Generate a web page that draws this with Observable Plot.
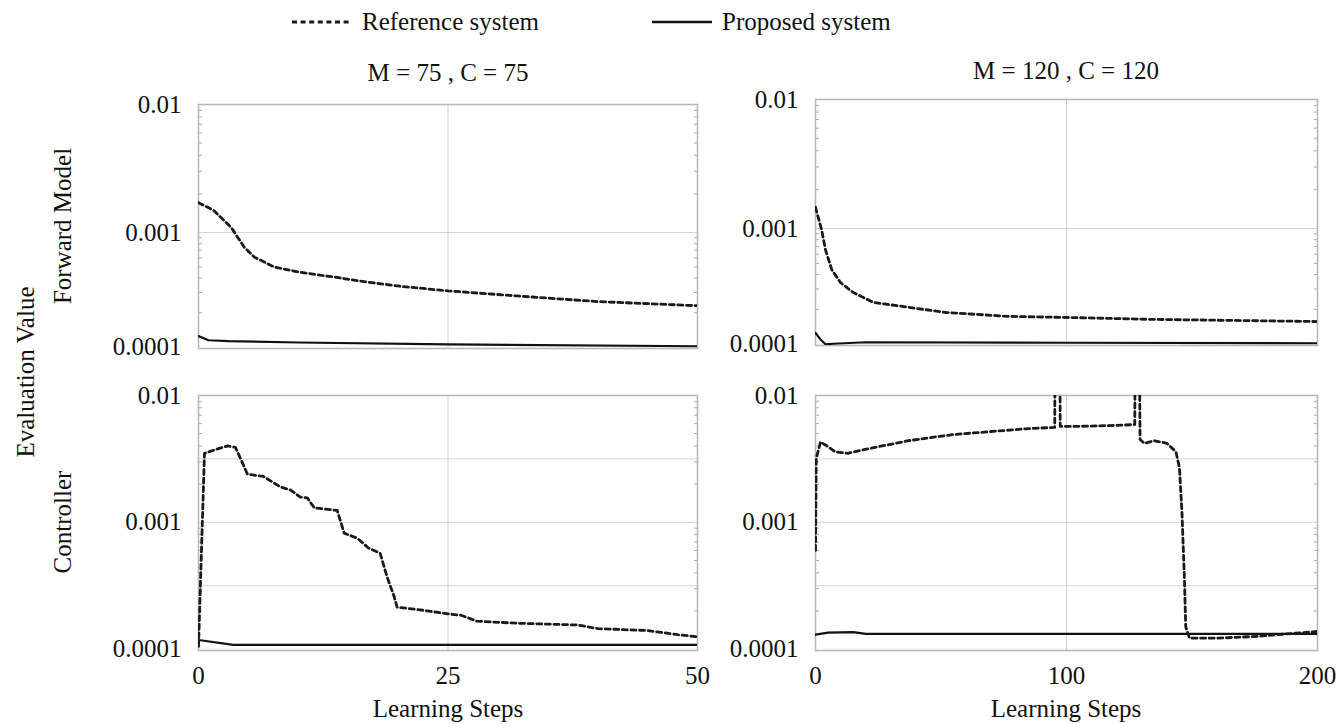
<!DOCTYPE html>
<html><head><meta charset="utf-8">
<script src="https://cdn.jsdelivr.net/npm/d3@7"></script>
<script src="https://cdn.jsdelivr.net/npm/@observablehq/plot@0.6"></script>
<style>
body{margin:0;background:#fff;}
#root{position:relative;width:1344px;height:724px;overflow:hidden;font-family:"Liberation Serif","Times New Roman",serif;color:#111;}
.abs{position:absolute;white-space:nowrap;font-size:25px;line-height:1;}
.ctr{transform:translate(-50%,-50%);}
.rot{transform:translate(-50%,-50%) rotate(-90deg);}
.plot{position:absolute;}
.plot svg{overflow:visible;}
</style></head><body><div id="root"></div>
<script>
// ---------- data ----------
const legendLabels = ["Reference system", "Proposed system"];
const panelTitles = ["M = 75 , C = 75", "M = 120 , C = 120"];
const rowLabels = ["Forward Model", "Controller"];
const yLabel = "Evaluation Value";
const xLabel = "Learning Steps";
const yTickValues = [0.0001, 0.001, 0.01];
const yTickLabels = ["0.0001", "0.001", "0.01"];
const xTicksLeft = [0, 25, 50];
const xTicksRight = [0, 100, 200];

// Forward model, M = 75
const fmLRefSteps = [0, 1.5, 3.3, 4.6, 5.6, 7.6, 10.2, 13.5, 16.9, 20.2, 25, 31.9, 40, 50];
const fmLRefVals  = [0.00171, 0.00149, 0.00109, 0.00074, 0.00061, 0.0005, 0.00045, 0.00041, 0.00037, 0.00034, 0.00031, 0.00028, 0.00025, 0.00023];
const fmLPropSteps = [0, 1, 3, 10, 25, 50];
const fmLPropVals  = [0.000125, 0.000115, 0.000113, 0.00011, 0.000106, 0.000102];

// Forward model, M = 120
const fmRRefSteps = [0, 2.5, 4, 6.5, 10, 15, 23, 36, 52, 77, 102, 134, 200];
const fmRRefVals  = [0.00146, 0.00096, 0.00065, 0.00044, 0.00034, 0.00028, 0.00023, 0.00021, 0.000188, 0.000174, 0.00017, 0.000164, 0.000157];
const fmRPropSteps = [0, 2, 4, 7, 20, 100, 200];
const fmRPropVals  = [0.000125, 0.00011, 0.0001, 0.000101, 0.000104, 0.000103, 0.000102];

// Controller, C = 75
const ctLRefSteps = [0, 0.6, 1.5, 2.9, 3.7, 4.2, 4.9, 6.5, 8.2, 9.2, 10.2, 10.9, 11.6, 13.9, 14.6, 15.9, 17, 18.2, 18.9, 19.6, 19.9, 22.2, 24.9, 26.3, 27.9, 31.9, 38, 40, 45, 48, 50];
const ctLRefVals  = [0.000105, 0.0035, 0.0037, 0.004, 0.0039, 0.0032, 0.0024, 0.0023, 0.0019, 0.0018, 0.00158, 0.00156, 0.0013, 0.00124, 0.00082, 0.00075, 0.00063, 0.00057, 0.00037, 0.00026, 0.000214, 0.000204, 0.00019, 0.000185, 0.000166, 0.00016, 0.000155, 0.000145, 0.00014, 0.00013, 0.000125];
const ctLPropSteps = [0, 3.5, 50];
const ctLPropVals  = [0.000118, 0.000108, 0.000108];

// Controller, C = 120
const ctRRefSteps = [0, 0.3, 2, 4.6, 7.8, 12.8, 21, 37, 54, 70, 86, 95.3, 95.5, 97.3, 97.5, 103, 119, 127.2, 127.4, 129, 129.3, 131, 135, 140, 143.6, 145, 146, 147, 147.5, 149, 160, 176, 200];
const ctRRefVals  = [0.0006, 0.0032, 0.0043, 0.004, 0.0036, 0.0035, 0.0038, 0.0044, 0.0049, 0.0052, 0.0055, 0.0056, 0.03, 0.03, 0.0057, 0.0057, 0.0058, 0.0059, 0.03, 0.03, 0.0045, 0.0042, 0.0044, 0.0042, 0.0036, 0.0027, 0.0012, 0.00035, 0.00015, 0.000122, 0.000122, 0.000126, 0.000138];
const ctRPropSteps = [0, 5, 15, 20, 200];
const ctRPropVals  = [0.00013, 0.000135, 0.000136, 0.000132, 0.000132];

// ---------- helpers ----------
const zip = (xs, ys) => xs.map((x, i) => ({x, y: ys[i]}));
const minorTicks = [];
for (const d of [0.0001, 0.001]) for (let k = 2; k <= 9; k++) minorTicks.push(+(d * k).toPrecision(3));
const root = document.getElementById("root");

function add(html, cls, left, top) {
  const el = document.createElement("div");
  el.className = "abs " + cls;
  el.style.left = left + "px"; el.style.top = top + "px";
  el.innerHTML = html;
  root.appendChild(el);
  return el;
}

function panel({ref, prop, xDomain, xTicks, gridX, gridY, showX, yScale, left, top, width, height, ml, mr, mt, mb}) {
  const marks = [
    Plot.gridX({ticks: [gridX], stroke: "#cfcfcf", strokeOpacity: 1, strokeWidth: 1}),
    Plot.gridY({ticks: gridY, stroke: "#d6d6d6", strokeOpacity: 1, strokeWidth: 1}),
    Plot.axisY({anchor: "left", ticks: minorTicks, tickSize: 4, dx: 4, tickFormat: () => "", label: null, stroke: "#aaa"}),
    Plot.axisY({anchor: "right", ticks: minorTicks, tickSize: 4, dx: -4, tickFormat: () => "", label: null, stroke: "#aaa"}),
    Plot.frame({stroke: "#b8b8b8", strokeWidth: 1.6}),
    Plot.axisY({anchor: "left", ticks: yTickValues, tickSize: 0, tickPadding: 17,
      tickFormat: d => yTickLabels[yTickValues.indexOf(d)], label: null, fill: "#111"}),
    Plot.line(prop, {x: "x", y: "y", stroke: "#111", strokeWidth: 2.2, clip: true}),
    Plot.line(ref, {x: "x", y: "y", stroke: "#1a1a1a", strokeWidth: 2.8, strokeDasharray: "5,3.6", clip: true})
  ];
  if (showX) marks.push(Plot.axisX({ticks: xTicks, tickSize: 0, tickPadding: 16, label: null, fill: "#111"}));
  const p = Plot.plot({
    width, height, marginLeft: ml, marginRight: mr, marginTop: mt, marginBottom: mb,
    style: {fontFamily: '"Liberation Serif","Times New Roman",serif', fontSize: "25px", background: "transparent", color: "#111"},
    x: {domain: xDomain, axis: null},
    y: Object.assign({type: "log", axis: null}, yScale),
    marks
  });
  const wrap = document.createElement("div");
  wrap.className = "plot";
  wrap.style.left = left + "px"; wrap.style.top = top + "px";
  wrap.appendChild(p);
  root.appendChild(wrap);
}

const topGrid = [0.001];
const botGrid = [Math.pow(10, -2.5), 0.001, Math.pow(10, -3.5)];
// top row: lower decade drawn a little shorter than upper decade (as in the original figure)
const topDomain = [0.0000975, 0.001, 0.01];
const botDomain = [0.0000975, 0.01];

panel({ref: zip(fmLRefSteps, fmLRefVals), prop: zip(fmLPropSteps, fmLPropVals), xDomain: [0, 50], xTicks: xTicksLeft, gridX: 25, gridY: topGrid, showX: false,
  yScale: {domain: topDomain, range: [258, 142, 14]},
  left: 0, top: 90, width: 717, height: 268, ml: 198, mr: 20, mt: 14, mb: 10});
panel({ref: zip(fmRRefSteps, fmRRefVals), prop: zip(fmRPropSteps, fmRPropVals), xDomain: [0, 200], xTicks: xTicksRight, gridX: 100, gridY: topGrid, showX: false,
  yScale: {domain: topDomain, range: [260, 143, 14]},
  left: 717, top: 85, width: 627, height: 270, ml: 98, mr: 27, mt: 14, mb: 10});
panel({ref: zip(ctLRefSteps, ctLRefVals), prop: zip(ctLPropSteps, ctLPropVals), xDomain: [0, 50], xTicks: xTicksLeft, gridX: 25, gridY: botGrid, showX: true,
  yScale: {domain: botDomain},
  left: 0, top: 380, width: 717, height: 314, ml: 198, mr: 20, mt: 15, mb: 44});
panel({ref: zip(ctRRefSteps, ctRRefVals), prop: zip(ctRPropSteps, ctRPropVals), xDomain: [0, 200], xTicks: xTicksRight, gridX: 100, gridY: botGrid, showX: true,
  yScale: {domain: botDomain},
  left: 717, top: 380, width: 627, height: 314, ml: 98, mr: 27, mt: 15, mb: 44});

// legend
const lg = document.createElementNS("http://www.w3.org/2000/svg", "svg");
lg.setAttribute("width", 1344); lg.setAttribute("height", 44);
lg.style.position = "absolute"; lg.style.left = "0px"; lg.style.top = "0px";
lg.innerHTML = `<line x1="292" x2="352" y1="22" y2="22" stroke="#1a1a1a" stroke-width="2.8" stroke-dasharray="5,3.6"/>
<line x1="652" x2="712" y1="22" y2="22" stroke="#111" stroke-width="2.4"/>`;
root.appendChild(lg);
add(legendLabels[0], "", 362, 9);
add(legendLabels[1], "", 722, 9);

// titles
add(panelTitles[0], "ctr", 448, 72);
add(panelTitles[1], "ctr", 1066, 70);

// x labels
add(xLabel, "ctr", 448, 708);
add(xLabel, "ctr", 1066, 708);

// y labels
add(yLabel, "rot", 25, 372);
add(rowLabels[0], "rot", 62, 226);
add(rowLabels[1], "rot", 62, 522);
</script></body></html>
